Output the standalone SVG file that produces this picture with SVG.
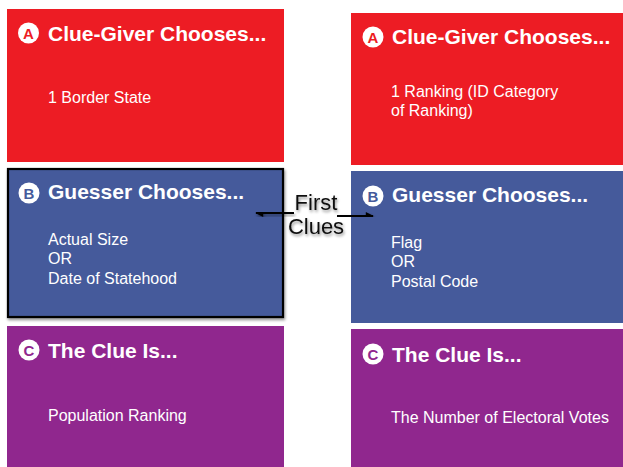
<svg xmlns="http://www.w3.org/2000/svg" width="623" height="467" viewBox="0 0 623 467">
<defs>
<style>
.title{font-family:"Liberation Sans",Arial,sans-serif;font-weight:bold;font-size:21px;fill:#fff}
.body{font-family:"Liberation Sans",Arial,sans-serif;font-size:16px;fill:#fff}
.badge{fill:#fff}
.bl{font-family:"Liberation Sans",Arial,sans-serif;font-weight:bold;font-size:15px;text-anchor:middle}
.red{fill:#ED1C24}
.blue{fill:#455A9B}
.purple{fill:#90278E}
.lbl{font-family:"Liberation Sans",Arial,sans-serif;font-size:22px;fill:#111;text-anchor:middle}
.conn{stroke:#000;stroke-width:1.8;fill:none}
</style>
<marker id="ah" viewBox="0 0 10 10" refX="9" refY="5" markerWidth="9" markerHeight="8" orient="auto" markerUnits="userSpaceOnUse">
<path d="M0,0 L10,5 L0,10 z" fill="#000"/>
</marker>
<filter id="sh" x="-20%" y="-20%" width="140%" height="140%">
<feGaussianBlur in="SourceAlpha" stdDeviation="1.5"/>
<feOffset dx="1" dy="1.5" result="b"/>
<feComponentTransfer><feFuncA type="linear" slope="0.45"/></feComponentTransfer>
<feMerge><feMergeNode/><feMergeNode in="SourceGraphic"/></feMerge>
</filter>
</defs>
<rect width="623" height="467" fill="#fff"/>

<g id="left-a">
<rect x="7" y="9" width="277" height="153" class="red"/>
<circle cx="28.5" cy="33" r="10.5" class="badge"/>
<text x="28.5" y="38.5" class="bl red">A</text>
<text x="48" y="41" class="title">Clue-Giver Chooses...</text>
<text x="48" y="103" class="body">1 Border State</text>
</g>

<g id="left-b">
<rect x="8" y="169" width="275" height="148" class="blue" stroke="#000" stroke-width="2.2" filter="url(#sh)"/>
<circle cx="29" cy="193" r="10.5" class="badge"/>
<text x="29" y="198.5" class="bl blue">B</text>
<text x="48" y="199" class="title">Guesser Chooses...</text>
<text x="48" y="245" class="body">Actual Size</text>
<text x="48" y="264" class="body">OR</text>
<text x="48" y="284" class="body">Date of Statehood</text>
</g>

<g id="left-c">
<rect x="7" y="326" width="277" height="141" class="purple"/>
<circle cx="29" cy="350" r="10.5" class="badge"/>
<text x="29" y="355.5" class="bl purple">C</text>
<text x="48" y="358" class="title">The Clue Is...</text>
<text x="48" y="421" class="body">Population Ranking</text>
</g>

<g id="right-a">
<rect x="351" y="13" width="272" height="152" class="red"/>
<circle cx="373" cy="37" r="10.5" class="badge"/>
<text x="373" y="42.5" class="bl red">A</text>
<text x="392" y="44" class="title">Clue-Giver Chooses...</text>
<text x="391" y="97" class="body">1 Ranking (ID Category</text>
<text x="391" y="116" class="body">of Ranking)</text>
</g>

<g id="right-b">
<rect x="351" y="171" width="272" height="152" class="blue"/>
<circle cx="373" cy="196" r="10.5" class="badge"/>
<text x="373" y="201.5" class="bl blue">B</text>
<text x="392" y="202" class="title">Guesser Chooses...</text>
<text x="391" y="248" class="body">Flag</text>
<text x="391" y="267" class="body">OR</text>
<text x="391" y="287" class="body">Postal Code</text>
</g>

<g id="right-c">
<rect x="351" y="329" width="272" height="138" class="purple"/>
<circle cx="373" cy="354" r="10.5" class="badge"/>
<text x="373" y="359.5" class="bl purple">C</text>
<text x="392" y="362" class="title">The Clue Is...</text>
<text x="391" y="423" class="body">The Number of Electoral Votes</text>
</g>

<g id="first-clues" filter="url(#sh)">
<text x="316" y="210" class="lbl">First</text>
<text x="316" y="234" class="lbl">Clues</text>
</g>

<g id="connectors" filter="url(#sh)">
<line x1="294" y1="213" x2="256" y2="213" class="conn" marker-end="url(#ah)"/>
<line x1="337" y1="216" x2="373" y2="216" class="conn" marker-end="url(#ah)"/>
</g>
</svg>
